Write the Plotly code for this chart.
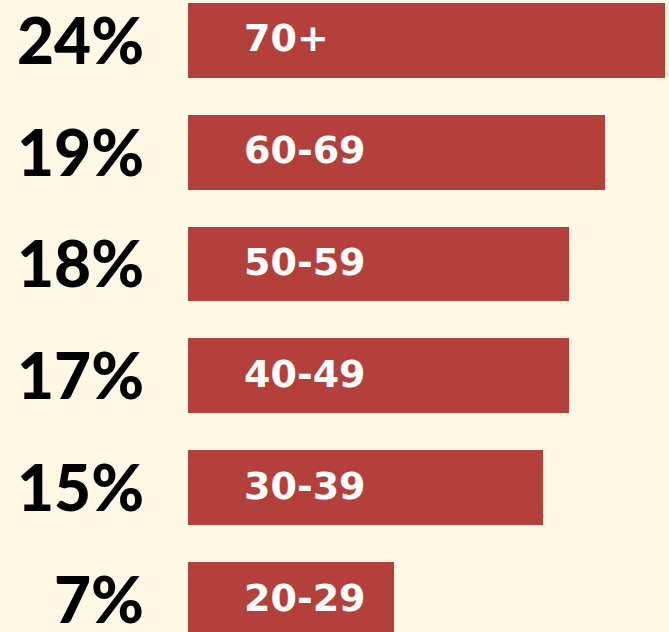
import plotly.graph_objects as go

age_groups = ["70+", "60-69", "50-59", "40-49", "30-39", "20-29"]
pct_labels = ["24%", "19%", "18%", "17%", "15%", "7%"]
bar_lengths = [24.0, 20.98, 19.17, 19.17, 17.86, 10.36]
positions = [5, 4, 3, 2, 1, 0]

BG = "#FFF8E5"
BAR = "#B4403B"

fig = go.Figure()
fig.add_trace(go.Bar(
    x=bar_lengths, y=positions, orientation="h",
    marker=dict(color=BAR, line=dict(width=0)),
    width=0.67, hoverinfo="skip", showlegend=False,
))

for p, age, pct in zip(positions, age_groups, pct_labels):
    fig.add_annotation(x=0, y=p, xref="x", yref="y", text=age, showarrow=False,
                       xanchor="left", xshift=54, yanchor="middle", yshift=2,
                       font=dict(family="DejaVu Sans", size=38, color="white", weight="bold"))
    fig.add_annotation(x=0, y=p, xref="x", yref="y", text=pct, showarrow=False,
                       xanchor="right", xshift=-42, yanchor="middle", yshift=1,
                       font=dict(family="Lato", size=64, color="black", weight=900))

fig.update_layout(
    width=669, height=632,
    margin=dict(l=0, r=0, t=0, b=0),
    paper_bgcolor=BG, plot_bgcolor=BG,
    xaxis=dict(domain=[188/669, 1], range=[0, 24.2], visible=False, fixedrange=True),
    yaxis=dict(range=[-0.29, 5.36], visible=False, fixedrange=True),
    bargap=0,
)

fig.write_html("out.html", config={"displayModeBar": False},
               post_script="document.body.style.margin='0';document.body.style.background='%s';" % BG)
